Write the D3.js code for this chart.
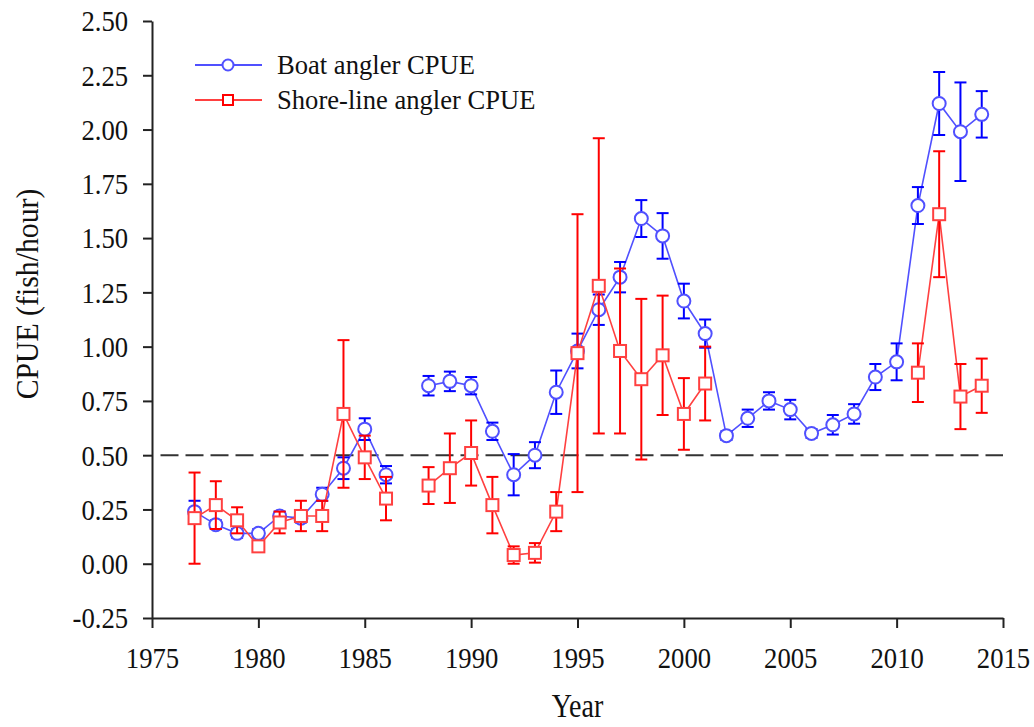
<!DOCTYPE html>
<html>
<head>
<meta charset="utf-8">
<script src="https://cdn.jsdelivr.net/npm/d3@7"></script>
<style>
  body { margin: 0; background: #fff; }
  svg text { font-family: "Liberation Serif", "Times New Roman", serif; fill: #111; }
</style>
</head>
<body>
<svg id="chart" width="1034" height="727"></svg>
<script>
// years 1977..2014, null = no survey
const years = d3.range(1977, 2015);
const boatCpue = [0.24, 0.18, 0.14, 0.14, 0.22, 0.21, 0.32, 0.44, 0.62, 0.41, null,
  0.82, 0.84, 0.82, 0.61, 0.41, 0.50, 0.79, 0.98, 1.17, 1.32, 1.59, 1.51, 1.21, 1.06,
  0.59, 0.67, 0.75, 0.71, 0.60, 0.64, 0.69, 0.86, 0.93, 1.65, 2.12, 1.99, 2.07];
const boatErr = [0.05, 0.02, 0.02, 0.02, 0.02, 0.02, 0.03, 0.05, 0.05, 0.04, null,
  0.045, 0.045, 0.04, 0.04, 0.095, 0.06, 0.10, 0.08, 0.07, 0.07, 0.085, 0.105, 0.08, 0.065,
  0.02, 0.04, 0.04, 0.045, 0.02, 0.045, 0.045, 0.06, 0.085, 0.085, 0.145, 0.227, 0.107];
const shoreCpue = [0.21, 0.27, 0.20, 0.08, 0.19, 0.22, 0.22, 0.69, 0.49, 0.30, null,
  0.36, 0.44, 0.51, 0.27, 0.04, 0.05, 0.24, 0.97, 1.28, 0.98, 0.85, 0.96, 0.69, 0.83,
  null, null, null, null, null, null, null, null, null, 0.88, 1.61, 0.77, 0.82];
const shoreErr = [0.21, 0.11, 0.06, 0.02, 0.05, 0.07, 0.07, 0.34, 0.10, 0.10, null,
  0.085, 0.16, 0.15, 0.13, 0.04, 0.045, 0.09, 0.64, 0.68, 0.38, 0.37, 0.275, 0.165, 0.17,
  null, null, null, null, null, null, null, null, null, 0.135, 0.29, 0.15, 0.125];
const xTicks = d3.range(1975, 2016, 5);
const yTicks = d3.range(-0.25, 2.51, 0.25);
const refLevel = 0.5;

const svg = d3.select("#chart");
const x = d3.scaleLinear().domain([1975, 2015]).range([152, 1003]);
const y = d3.scaleLinear().domain([-0.25, 2.5]).range([618, 21]);
const fmt2 = d => d3.format(".2f")(d).replace("\u2212", "-");

// axes
const xAxis = svg.append("g")
  .attr("transform", `translate(0,${y(-0.25)})`)
  .call(d3.axisBottom(x).tickValues(xTicks).tickFormat(d3.format("d")).tickSize(10).tickSizeOuter(0));
xAxis.selectAll("text").attr("y", 50).attr("dy", 0)
  .attr("transform", "scale(0.92,1)").style("font-size", "29px");

const yAxis = svg.append("g")
  .attr("transform", `translate(${x(1975)},0)`)
  .call(d3.axisLeft(y).tickValues(yTicks).tickFormat(fmt2).tickSize(9).tickSizeOuter(0));
yAxis.selectAll("text").attr("x", -26).attr("dy", "0.34em")
  .attr("transform", "scale(0.92,1)").style("font-size", "29px");

svg.selectAll(".domain, .tick line").attr("stroke", "#222").attr("stroke-width", 2);

svg.append("text")
  .attr("transform", `translate(38,294) rotate(-90) scale(0.93,1)`)
  .attr("text-anchor", "middle")
  .style("font-size", "32px")
  .text("CPUE (fish/hour)");

svg.append("text")
  .attr("transform", `translate(${x(1995)},717) scale(0.85,1)`)
  .attr("text-anchor", "middle")
  .style("font-size", "33px")
  .text("Year");

// reference line
svg.append("line")
  .attr("x1", x(1975.4)).attr("x2", x(2015))
  .attr("y1", y(refLevel)).attr("y2", y(refLevel))
  .attr("stroke", "#333").attr("stroke-width", 2).attr("stroke-dasharray", "18,7");

const series = [
  {name: "Boat angler CPUE", vals: boatCpue, errs: boatErr, line: "#5050ff", color: "#0000ff", shape: "circle"},
  {name: "Shore-line angler CPUE", vals: shoreCpue, errs: shoreErr, line: "#ff4040", color: "#ff0000", shape: "square"}
];

function drawMarker(g, shape, color) {
  if (shape === "circle") {
    g.append("circle").attr("r", 6.5)
      .attr("fill", "#fff").attr("stroke", color).attr("stroke-width", 2);
  } else {
    g.append("rect").attr("x", -6).attr("y", -6).attr("width", 12).attr("height", 12)
      .attr("fill", "#fff").attr("stroke", color).attr("stroke-width", 2);
  }
}

series.forEach(s => {
  const pts = years.map((yr, i) => ({yr, v: s.vals[i], e: s.errs[i]}));
  const present = pts.filter(d => d.v != null);
  const g = svg.append("g");

  g.append("path")
    .datum(pts)
    .attr("fill", "none")
    .attr("stroke", s.line)
    .attr("stroke-width", 1.6)
    .attr("d", d3.line().defined(d => d.v != null).x(d => x(d.yr)).y(d => y(d.v)));

  const eb = g.selectAll(".eb").data(present).join("g").attr("class", "eb")
    .attr("stroke", s.color).attr("stroke-width", 2);
  eb.append("line")
    .attr("x1", d => x(d.yr)).attr("x2", d => x(d.yr))
    .attr("y1", d => y(d.v + d.e)).attr("y2", d => y(d.v - d.e));
  eb.append("line")
    .attr("x1", d => x(d.yr) - 6).attr("x2", d => x(d.yr) + 6)
    .attr("y1", d => y(d.v + d.e)).attr("y2", d => y(d.v + d.e));
  eb.append("line")
    .attr("x1", d => x(d.yr) - 6).attr("x2", d => x(d.yr) + 6)
    .attr("y1", d => y(d.v - d.e)).attr("y2", d => y(d.v - d.e));

  g.selectAll(".mk").data(present).join("g").attr("class", "mk")
    .attr("transform", d => `translate(${x(d.yr)},${y(d.v)})`)
    .each(function() { drawMarker(d3.select(this), s.shape, s.line); });
});

// legend
const legend = svg.append("g");
series.forEach((s, i) => {
  const ly = 65 + i * 35;
  legend.append("line").attr("x1", 195).attr("x2", 262).attr("y1", ly).attr("y2", ly)
    .attr("stroke", s.line).attr("stroke-width", 2);
  const m = legend.append("g").attr("transform", `translate(228,${ly})`);
  if (s.shape === "circle") {
    m.append("circle").attr("r", 5.5).attr("fill", "#fff").attr("stroke", s.line).attr("stroke-width", 2);
  } else {
    m.append("rect").attr("x", -5).attr("y", -5).attr("width", 10).attr("height", 10)
      .attr("fill", "#fff").attr("stroke", s.color).attr("stroke-width", 2);
  }
  legend.append("text").attr("transform", `translate(277,${ly + 9}) scale(0.95,1)`)
    .style("font-size", "28px").text(s.name);
});
</script>
</body>
</html>
